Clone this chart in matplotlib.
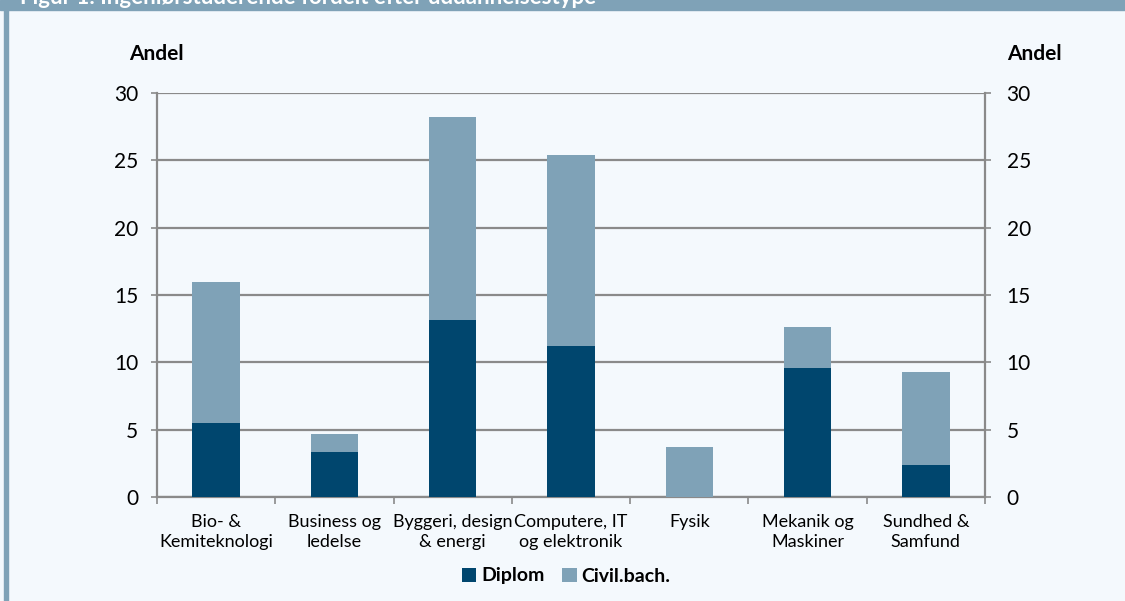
import matplotlib.pyplot as plt
import numpy as np
from matplotlib.patches import Rectangle

kategorier = ['Bio- &\nKemiteknologi', 'Business og\nledelse', 'Byggeri, design\n& energi',
              'Computere, IT\nog elektronik', 'Fysik', 'Mekanik og\nMaskiner', 'Sundhed &\nSamfund']
diplom = [5.5, 3.35, 13.15, 11.2, 0.0, 9.6, 2.35]
total = [16.0, 4.7, 28.2, 25.4, 3.7, 12.6, 9.3]
civil_bach = [t - d for t, d in zip(total, diplom)]

mork = '#00466e'
lys = '#7fa2b7'
baggrund = '#f4f9fd'
gitter = '#8a8a8a'

plt.rcParams['font.family'] = ['Lato', 'DejaVu Sans']

fig = plt.figure(figsize=(11.25, 6.01), dpi=100, facecolor=baggrund)

# Ramme: bjælke foroven og kant til venstre
fig.patches.append(Rectangle((0, 1 - 10 / 601), 1, 10 / 601, transform=fig.transFigure,
                             color=lys, zorder=0))
fig.patches.append(Rectangle((4 / 1125, 0), 4 / 1125, 1, transform=fig.transFigure,
                             color=lys, zorder=0))
fig.text(20 / 1125, 1 - 4 / 601, 'Figur 1: Ingeniørstuderende fordelt efter uddannelsestype',
         color='white', fontsize=16, fontweight='bold', va='baseline', ha='left')

ax = fig.add_axes([157 / 1125, 104 / 601, 828 / 1125, 404 / 601])
ax.set_facecolor(baggrund)

x = np.arange(len(kategorier))
b = 0.4
ax.bar(x, diplom, b, color=mork, label='Diplom', zorder=3)
ax.bar(x, civil_bach, b, bottom=diplom, color=lys, label='Civil.bach.', zorder=3)

ax.set_xlim(-0.5, len(kategorier) - 0.5)
ax.set_ylim(0, 30)
ax.set_yticks(range(0, 31, 5))
ax.yaxis.grid(True, color=gitter, linewidth=1.6, zorder=0)
ax.set_axisbelow(True)

ax.set_xticks(x)
ax.set_xticklabels(kategorier, fontsize=13, linespacing=1.35)
ax.tick_params(axis='x', length=0, pad=12)
ax.set_xticks(np.arange(-0.5, len(kategorier)), minor=True)
ax.tick_params(axis='x', which='minor', length=5, width=1.2, color=gitter, direction='out')
ax.tick_params(axis='y', length=4.5, width=1.2, color=gitter, labelsize=15, pad=9)

for s in ['left', 'right', 'bottom']:
    ax.spines[s].set_color(gitter)
    ax.spines[s].set_linewidth(1.6)
ax.spines['top'].set_visible(False)

ax2 = ax.twinx()
ax2.set_ylim(0, 30)
ax2.set_yticks(range(0, 31, 5))
ax2.tick_params(axis='y', length=4.5, width=1.2, color=gitter, labelsize=15, pad=11)
for s in ['left', 'right', 'bottom', 'top']:
    ax2.spines[s].set_visible(False)

fig.text(156 / 1125, 1 - 54 / 601, 'Andel', fontsize=15, fontweight='bold', ha='center', va='center')
fig.text(1034 / 1125, 1 - 54 / 601, 'Andel', fontsize=15, fontweight='bold', ha='center', va='center')

leg = fig.legend(loc='center', bbox_to_anchor=(566 / 1125, 1 - 576 / 601), ncol=2, frameon=False,
                 handlelength=0.75, handleheight=0.75, handletextpad=0.25, columnspacing=0.9,
                 prop={'weight': 'bold', 'size': 14})

fig.savefig('out.png', dpi=100, facecolor=baggrund)
